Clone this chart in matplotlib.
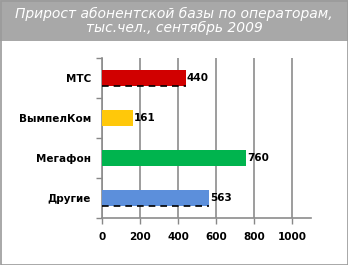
import matplotlib
matplotlib.use("Agg")
import matplotlib.pyplot as plt
from matplotlib.patches import Rectangle

categories = ["МТС", "ВымпелКом", "Мегафон", "Другие"]
values = [440, 161, 760, 563]
colors = ["#D10000", "#FFC80A", "#00B44E", "#5C8FDB"]
dashed = [True, False, False, True]
xticks = [0, 200, 400, 600, 800, 1000]
title = "Прирост абонентской базы по операторам,\nтыс.чел., сентябрь 2009"

W, H = 348, 265
fig = plt.figure(figsize=(W/100, H/100), dpi=100)
fig.patch.set_facecolor("white")

# banner
fig.patches.append(Rectangle((0, 1 - 41/H), 1, 41/H, transform=fig.transFigure,
                             facecolor="#A8A8A8", edgecolor="none", zorder=0))
fig.patches.append(Rectangle((0.5/W, 0.5/H), 1 - 1/W, 1 - 1/H, transform=fig.transFigure,
                             facecolor="none", edgecolor="#9A9A9A", lw=1.2, zorder=5))
fig.text(0.5, 1 - 21/H, title, ha="center", va="center", color="white",
         fontsize=10, fontstyle="italic", linespacing=1.05)

ax = fig.add_axes([102/W, 1 - 218/H, 209/W, 160/H])
n = len(categories)
ypos = list(range(n))[::-1]
ax.barh(ypos, values, height=0.42, color=colors, zorder=3)
for y, v, d in zip(ypos, values, dashed):
    if d:
        ax.plot([0, v], [y - 0.21, y - 0.21], color="black", lw=1.2,
                dashes=(4, 3), zorder=4)
    ax.text(v + 4, y, str(v), va="center", ha="left", fontsize=7.5,
            fontweight="bold", color="black", zorder=5)

ax.set_xlim(0, 1100)
ax.set_ylim(-0.5, n - 0.5)
ax.set_xticks(xticks)
ax.set_xticklabels([str(t) for t in xticks], fontsize=7.5, fontweight="bold")
ax.set_yticks(ypos)
ax.set_yticklabels(categories, fontsize=7.5, fontweight="bold")
ax.set_yticks([i - 0.5 for i in range(n + 1)], minor=True)
ax.tick_params(axis="y", which="major", length=0, pad=8)
ax.tick_params(axis="y", which="minor", length=4, color="#888888", width=1)
ax.tick_params(axis="x", length=4, color="#888888", width=1, pad=6)
ax.grid(axis="x", color="#8C8C8C", lw=1.2, zorder=1)
for s in ["top", "right"]:
    ax.spines[s].set_visible(False)
for s in ["left", "bottom"]:
    ax.spines[s].set_color("#8C8C8C")
    ax.spines[s].set_linewidth(1.2)

fig.savefig("out.png", dpi=100)
